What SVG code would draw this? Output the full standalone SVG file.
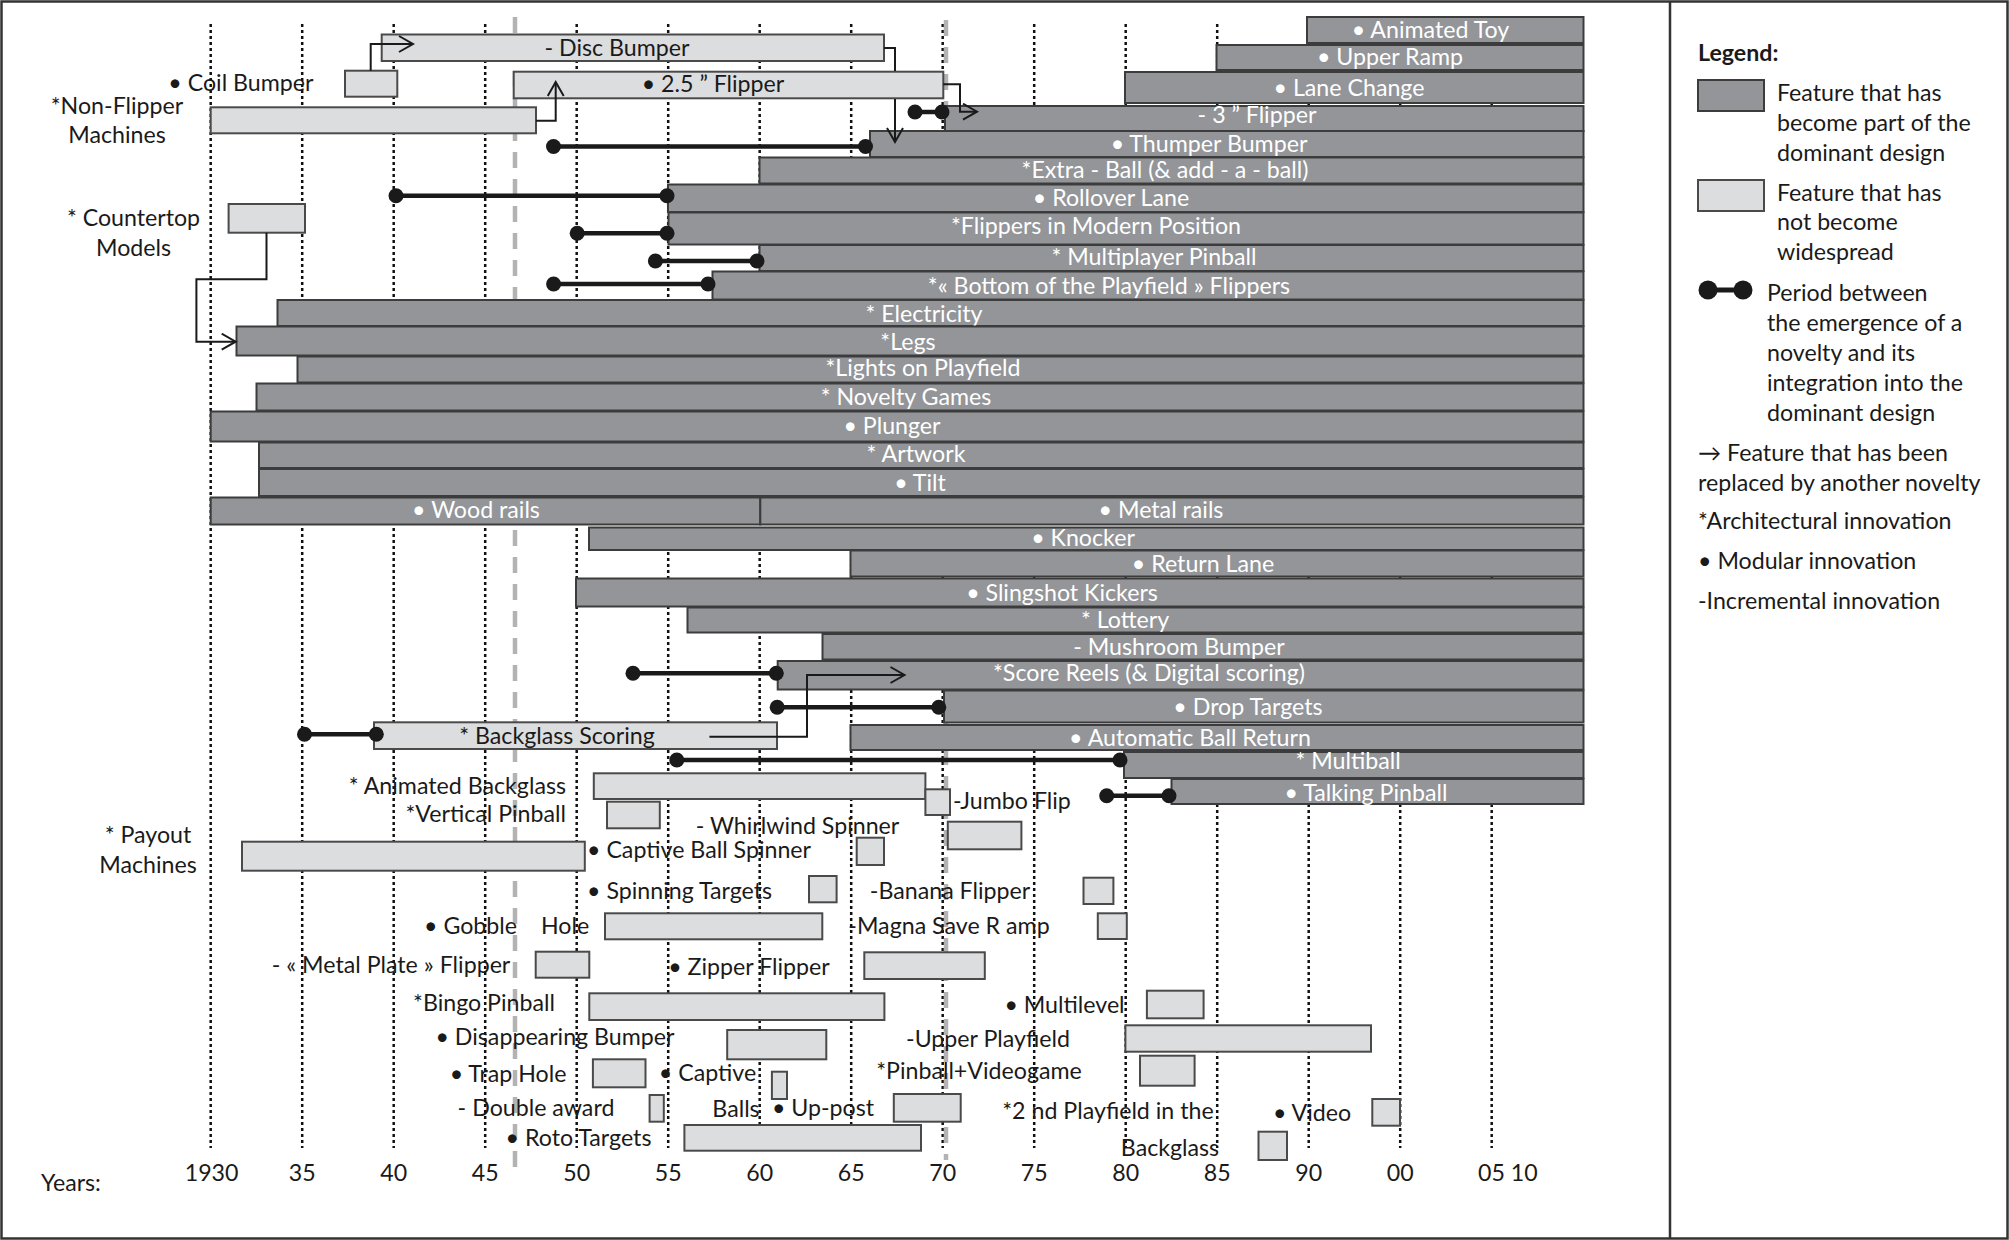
<svg xmlns="http://www.w3.org/2000/svg" width="2009" height="1240" viewBox="0 0 2009 1240">
<style>
.bg{fill:#fff}
.fr{fill:none;stroke:#333;stroke-width:2.5}
.g{stroke:#111;stroke-width:2.5;stroke-dasharray:3 3}
.gd{stroke:#b3b3b3;stroke-width:4.5;stroke-dasharray:16 11}
.d{fill:#939598;stroke:#3c3c3c;stroke-width:2}
.l{fill:#dcddde;stroke:#4a4a4a;stroke-width:2}
.t{font-family:Lato,"Liberation Sans",sans-serif;font-size:23.2px;fill:#1a1a1a}
.w{fill:#fff}
.c{text-anchor:middle}
.e{text-anchor:end}
.b{font-weight:bold}
.p{stroke:#1a1a1a;stroke-width:4.5;marker-start:url(#dot);marker-end:url(#dot)}
.a{fill:none;stroke:#1a1a1a;stroke-width:2}
.ah{marker-end:url(#ar)}
</style>
<defs>
<marker id="dot" markerUnits="userSpaceOnUse" markerWidth="18" markerHeight="18" refX="9" refY="9" orient="0"><circle cx="9" cy="9" r="7.5" fill="#1a1a1a"/></marker>
<marker id="dotL" markerUnits="userSpaceOnUse" markerWidth="22" markerHeight="22" refX="11" refY="11" orient="0"><circle cx="11" cy="11" r="9.5" fill="#1a1a1a"/></marker>
<marker id="ar" markerUnits="userSpaceOnUse" markerWidth="18" markerHeight="18" refX="15" refY="9" orient="auto"><path d="M1,1 L15,9 L1,17" fill="none" stroke="#1a1a1a" stroke-width="2"/></marker>
</defs>
<rect class="bg" x="0" y="0" width="2009" height="1240"/>
<rect class="fr" x="1.5" y="1.5" width="2006" height="1237"/>
<line x1="1670" y1="1.5" x2="1670" y2="1238.5" stroke="#333" stroke-width="2.5"/>

<g id="grid">
<line class="g" x1="210.7" y1="24" x2="210.7" y2="1148"/>
<line class="g" x1="302.2" y1="24" x2="302.2" y2="1148"/>
<line class="g" x1="393.7" y1="24" x2="393.7" y2="1148"/>
<line class="g" x1="485.2" y1="24" x2="485.2" y2="1148"/>
<line class="g" x1="576.7" y1="24" x2="576.7" y2="1148"/>
<line class="g" x1="668.2" y1="24" x2="668.2" y2="1148"/>
<line class="g" x1="759.7" y1="24" x2="759.7" y2="1148"/>
<line class="g" x1="851.2" y1="24" x2="851.2" y2="1148"/>
<line class="g" x1="942.7" y1="24" x2="942.7" y2="1148"/>
<line class="g" x1="1034.2" y1="24" x2="1034.2" y2="1148"/>
<line class="g" x1="1125.7" y1="24" x2="1125.7" y2="1148"/>
<line class="g" x1="1217.2" y1="24" x2="1217.2" y2="1148"/>
<line class="g" x1="1308.7" y1="24" x2="1308.7" y2="1148"/>
<line class="g" x1="1400.2" y1="24" x2="1400.2" y2="1148"/>
<line class="g" x1="1491.7" y1="24" x2="1491.7" y2="1148"/>
<line class="gd" x1="515" y1="17" x2="515" y2="1170"/>
<line class="gd" x1="946" y1="20" x2="946" y2="1160"/>
</g>

<g id="axis" class="t">
<text x="41" y="1191">Years:</text>
<text class="c" x="211.6" y="1181">1930</text>
<text class="c" x="302.2" y="1181">35</text>
<text class="c" x="393.7" y="1181">40</text>
<text class="c" x="485.2" y="1181">45</text>
<text class="c" x="576.7" y="1181">50</text>
<text class="c" x="668.2" y="1181">55</text>
<text class="c" x="759.7" y="1181">60</text>
<text class="c" x="851.2" y="1181">65</text>
<text class="c" x="942.7" y="1181">70</text>
<text class="c" x="1034.2" y="1181">75</text>
<text class="c" x="1125.7" y="1181">80</text>
<text class="c" x="1217.2" y="1181">85</text>
<text class="c" x="1308.7" y="1181">90</text>
<text class="c" x="1400.2" y="1181">00</text>
<text x="1478" y="1181">05 10</text>
</g>

<g id="category-labels" class="t c">
<text x="117" y="114">*Non-Flipper</text>
<text x="117" y="142.5">Machines</text>
<text x="133.5" y="226">* Countertop</text>
<text x="133.5" y="256">Models</text>
<text x="148" y="842.5">* Payout</text>
<text x="148" y="872.5">Machines</text>
</g>

<g id="dominant" class="t">
<g id="animated-toy"><rect class="d" x="1307" y="17" width="276.5" height="26"/><text class="w c" x="1430.5" y="37.5">• Animated Toy</text></g>
<g id="upper-ramp"><rect class="d" x="1216.5" y="45" width="367" height="25"/><text class="w c" x="1390" y="65">• Upper Ramp</text></g>
<g id="lane-change"><rect class="d" x="1125" y="72" width="458.5" height="31"/><text class="w c" x="1349" y="95.5">• Lane Change</text></g>
<g id="flipper-3"><rect class="d" x="945" y="106" width="638.5" height="25"/><text class="w c" x="1257" y="122.5">- 3 ” Flipper</text></g>
<g id="thumper-bumper"><rect class="d" x="870" y="131" width="713.5" height="26"/><text class="w c" x="1209" y="152">• Thumper Bumper</text></g>
<g id="extra-ball"><rect class="d" x="759.5" y="157.5" width="824" height="26"/><text class="w c" x="1165" y="177.5">*Extra - Ball (&amp; add - a - ball)</text></g>
<g id="rollover-lane"><rect class="d" x="668" y="184.5" width="915.5" height="27.5"/><text class="w c" x="1111" y="205.5">• Rollover Lane</text></g>
<g id="flippers-modern"><rect class="d" x="668.5" y="212.5" width="915" height="32"/><text class="w c" x="1096" y="233.5">*Flippers in Modern Position</text></g>
<g id="multiplayer"><rect class="d" x="759.5" y="245" width="824" height="26"/><text class="w c" x="1154" y="264.5">* Multiplayer Pinball</text></g>
<g id="bottom-flippers"><rect class="d" x="712.5" y="271.5" width="871" height="28"/><text class="w c" x="1109" y="294">*« Bottom of the Playfield » Flippers</text></g>
<g id="electricity"><rect class="d" x="277.5" y="300" width="1306" height="26"/><text class="w c" x="924" y="322">* Electricity</text></g>
<g id="legs"><rect class="d" x="236.5" y="326.5" width="1347" height="29"/><text class="w c" x="908" y="350">*Legs</text></g>
<g id="lights"><rect class="d" x="297.5" y="356.5" width="1286" height="26"/><text class="w c" x="923" y="375.5">*Lights on Playfield</text></g>
<g id="novelty"><rect class="d" x="256.5" y="383.5" width="1327" height="27"/><text class="w c" x="906" y="404.5">* Novelty Games</text></g>
<g id="plunger"><rect class="d" x="210.7" y="411.5" width="1372.8" height="30"/><text class="w c" x="892" y="434">• Plunger</text></g>
<g id="artwork"><rect class="d" x="259" y="442.5" width="1324.5" height="25.5"/><text class="w c" x="916" y="462">* Artwork</text></g>
<g id="tilt"><rect class="d" x="259" y="469" width="1324.5" height="27"/><text class="w c" x="920" y="490.5">• Tilt</text></g>
<g id="wood-rails"><rect class="d" x="210.7" y="497.5" width="549.6" height="27"/><text class="w c" x="476" y="518">• Wood rails</text></g>
<g id="metal-rails"><rect class="d" x="760.3" y="497.5" width="823.2" height="27"/><text class="w c" x="1161" y="518">• Metal rails</text></g>
<g id="knocker"><rect class="d" x="589" y="527.5" width="994.5" height="22.5"/><text class="w c" x="1083" y="546">• Knocker</text></g>
<g id="return-lane"><rect class="d" x="850.5" y="550.5" width="733" height="26"/><text class="w c" x="1203" y="572">• Return Lane</text></g>
<g id="slingshot"><rect class="d" x="576" y="578.5" width="1007.5" height="28"/><text class="w c" x="1062" y="600.5">• Slingshot Kickers</text></g>
<g id="lottery"><rect class="d" x="687.5" y="607.5" width="896" height="25"/><text class="w c" x="1125" y="628">* Lottery</text></g>
<g id="mushroom"><rect class="d" x="822.5" y="634" width="761" height="25.5"/><text class="w c" x="1179" y="654.5">- Mushroom Bumper</text></g>
<g id="score-reels"><rect class="d" x="777.7" y="661" width="805.8" height="28.5"/><text class="w c" x="1149" y="680.5">*Score Reels (&amp; Digital scoring)</text></g>
<g id="drop-targets"><rect class="d" x="944" y="690.5" width="639.5" height="32"/><text class="w c" x="1248" y="714.5">• Drop Targets</text></g>
<g id="auto-ball-return"><rect class="d" x="850.5" y="725" width="733" height="25"/><text class="w c" x="1190" y="745.5">• Automatic Ball Return</text></g>
<g id="multiball"><rect class="d" x="1124" y="752" width="459.5" height="26"/><text class="w c" x="1348" y="769">* Multiball</text></g>
<g id="talking"><rect class="d" x="1171.5" y="779" width="412" height="25"/><text class="w c" x="1366" y="800.5">• Talking Pinball</text></g>
</g>

<g id="not-widespread" class="t">
<g id="disc-bumper"><rect class="l" x="381.7" y="34.5" width="502.3" height="26.5"/><text class="c" x="617" y="55.5">- Disc Bumper</text></g>
<g id="flipper-25"><rect class="l" x="513.7" y="71.7" width="429.6" height="26.6"/><text class="c" x="713" y="92">• 2.5 ” Flipper</text></g>
<g id="coil-bumper"><rect class="l" x="345" y="70.7" width="52.3" height="26"/><text class="e" x="313.5" y="91">• Coil Bumper</text></g>
<g id="non-flipper"><rect class="l" x="210.7" y="107.3" width="325.3" height="26"/></g>
<g id="countertop"><rect class="l" x="228.6" y="204" width="76.4" height="28.7"/></g>
<g id="backglass-scoring"><rect class="l" x="374" y="722.3" width="403" height="26.7"/><text class="c" x="557" y="743.5">* Backglass Scoring</text></g>
<g id="animated-backglass"><rect class="l" x="593.8" y="773.3" width="331.6" height="25.7"/><text class="e" x="566" y="794">* Animated Backglass</text></g>
<g id="vertical-pinball"><rect class="l" x="607" y="801.7" width="52.8" height="26.6"/><text class="e" x="566" y="821.5">*Vertical Pinball</text></g>
<g id="jumbo-flip"><rect class="l" x="925.4" y="789.3" width="24.6" height="25.7"/><text x="953" y="809">-Jumbo Flip</text></g>
<g id="whirlwind"><rect class="l" x="947.8" y="821.7" width="73.6" height="27.6"/><text class="c" x="797.5" y="833.5">- Whirlwind Spinner</text></g>
<g id="payout"><rect class="l" x="242" y="841.7" width="342.8" height="29"/></g>
<g id="captive-ball-spinner"><rect class="l" x="856.7" y="837.7" width="27.3" height="27.3"/><text x="587" y="858">• Captive Ball Spinner</text></g>
<g id="spinning-targets"><rect class="l" x="809" y="876" width="27.6" height="26.3"/><text x="587" y="899">• Spinning Targets</text></g>
<g id="banana-flipper"><rect class="l" x="1083.5" y="877.7" width="29.9" height="26.3"/><text class="c" x="950" y="899">-Banana Flipper</text></g>
<g id="gobble-hole"><rect class="l" x="605" y="913.3" width="217.3" height="26"/><text x="424" y="934">• Gobble</text><text x="541" y="934">Hole</text></g>
<g id="magna-save"><rect class="l" x="1097.8" y="913.3" width="29" height="25.7"/><text class="c" x="949" y="934">-Magna Save R amp</text></g>
<g id="metal-plate"><rect class="l" x="535.7" y="951.7" width="53.6" height="26"/><text class="c" x="391" y="973">- « Metal Plate » Flipper</text></g>
<g id="zipper"><rect class="l" x="864.3" y="952.3" width="120.5" height="26.7"/><text class="c" x="749" y="974.5">• Zipper Flipper</text></g>
<g id="bingo"><rect class="l" x="589.3" y="993.3" width="295.1" height="26.7"/><text class="c" x="484" y="1011">*Bingo Pinball</text></g>
<g id="multilevel"><rect class="l" x="1146.9" y="990.7" width="56.7" height="27.6"/><text class="c" x="1064.5" y="1013">• Multilevel</text></g>
<g id="disappearing"><rect class="l" x="727.2" y="1030" width="99.1" height="29.3"/><text class="c" x="555" y="1044.5">• Disappearing Bumper</text></g>
<g id="upper-playfield"><rect class="l" x="1125.4" y="1025.3" width="245.6" height="26.4"/><text class="c" x="988" y="1047">-Upper Playfield</text></g>
<g id="trap-hole"><rect class="l" x="592.9" y="1059.3" width="52.6" height="28"/><text class="c" x="508" y="1082">• Trap Hole</text></g>
<g id="captive-balls"><rect class="l" x="771.9" y="1071.7" width="15.1" height="27.3"/><text class="c" x="707.5" y="1080.5">• Captive</text><text class="c" x="736" y="1116.5">Balls</text></g>
<g id="pinball-videogame"><rect class="l" x="1140" y="1055.7" width="54.6" height="30"/><text class="c" x="979" y="1079">*Pinball+Videogame</text></g>
<g id="double-award"><rect class="l" x="649.6" y="1095" width="14.2" height="26.7"/><text class="c" x="536" y="1115.5">- Double award</text></g>
<g id="up-post"><rect class="l" x="893.8" y="1094" width="66.9" height="27.7"/><text class="c" x="823" y="1115.5">• Up-post</text></g>
<g id="video"><rect class="l" x="1372.3" y="1099" width="27.7" height="26.7"/><text class="c" x="1312" y="1120.5">• Video</text></g>
<g id="second-playfield"><rect class="l" x="1258.5" y="1131.7" width="28.5" height="28.3"/><text class="c" x="1108" y="1119">*2 nd Playfield in the</text><text class="c" x="1170" y="1155.5">Backglass</text></g>
<g id="roto-targets"><rect class="l" x="684.4" y="1125" width="236.6" height="25.7"/><text class="c" x="578.5" y="1145.5">• Roto Targets</text></g>
</g>

<g id="connectors">
<path class="a ah" d="M370.7,70.7 V44 H413"/>
<path class="a ah" d="M536,120.7 H555.7 V82"/>
<path class="a" d="M884,48 H895 V71"/>
<path class="a ah" d="M895,99 V142"/>
<path class="a ah" d="M943.3,84.3 H960 V111.7 H977"/>
<path class="a ah" d="M266.5,232.7 V279.3 H196.4 V341.7 H235.7"/>
<path class="a ah" d="M709.4,736.7 H807 V675 H904.5"/>
<line class="p" x1="553.5" y1="146.5" x2="865.5" y2="146.5"/>
<line class="p" x1="915" y1="112" x2="942" y2="112"/>
<line class="p" x1="396" y1="195.7" x2="667" y2="195.7"/>
<line class="p" x1="577.2" y1="233.3" x2="667" y2="233.3"/>
<line class="p" x1="655.4" y1="261" x2="757" y2="261"/>
<line class="p" x1="553.6" y1="284" x2="708" y2="284"/>
<line class="p" x1="633" y1="673.3" x2="776.3" y2="673.3"/>
<line class="p" x1="777.2" y1="707.3" x2="938.8" y2="707.3"/>
<line class="p" x1="304.5" y1="734.3" x2="376.3" y2="734.3"/>
<line class="p" x1="676.8" y1="760" x2="1120" y2="760"/>
<line class="p" x1="1106.7" y1="795.7" x2="1169" y2="795.7"/>
</g>

<g id="legend" class="t">
<text class="b" x="1698" y="61">Legend:</text>
<rect class="d" x="1698" y="80" width="66" height="31"/>
<text x="1777" y="101">Feature that has</text>
<text x="1777" y="131">become part of the</text>
<text x="1777" y="161">dominant design</text>
<rect class="l" x="1698" y="180" width="66" height="31"/>
<text x="1777" y="201">Feature that has</text>
<text x="1777" y="230">not become</text>
<text x="1777" y="260">widespread</text>
<line x1="1708" y1="290" x2="1743" y2="290" stroke="#1a1a1a" stroke-width="5" marker-start="url(#dotL)" marker-end="url(#dotL)"/>
<text x="1767" y="301">Period between</text>
<text x="1767" y="331">the emergence of a</text>
<text x="1767" y="361">novelty and its</text>
<text x="1767" y="391">integration into the</text>
<text x="1767" y="421">dominant design</text>
<text x="1698" y="461">→ Feature that has been</text>
<text x="1698" y="491">replaced by another novelty</text>
<text x="1698" y="529">*Architectural innovation</text>
<text x="1698" y="569">• Modular innovation</text>
<text x="1698" y="609">-Incremental innovation</text>
</g>
</svg>
